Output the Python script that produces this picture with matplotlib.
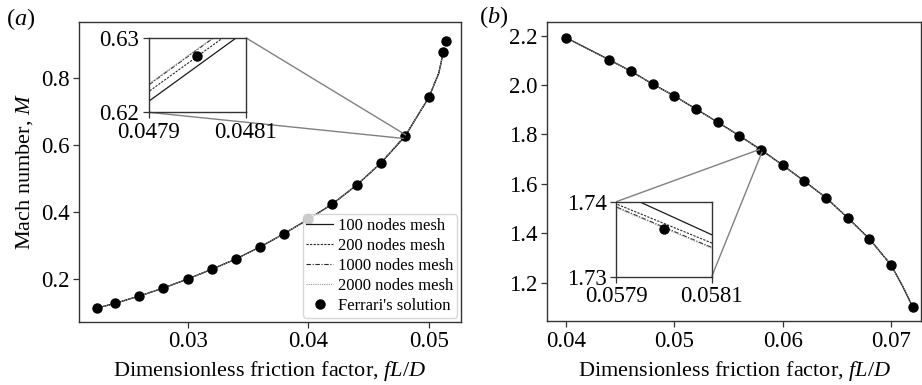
import numpy as np
import matplotlib
matplotlib.use("Agg")
import matplotlib.pyplot as plt
from mpl_toolkits.axes_grid1.inset_locator import mark_inset

plt.rcParams['font.family'] = ['Liberation Serif', 'DejaVu Serif']
plt.rcParams['mathtext.fontset'] = 'custom'
plt.rcParams['mathtext.rm'] = 'Liberation Serif'
plt.rcParams['mathtext.it'] = 'Liberation Serif:italic'
plt.rcParams['font.size'] = 16.5

# ---------------- data: panel (a) ----------------
ferrari_a_x = [0.0225, 0.024, 0.026, 0.028, 0.030, 0.032, 0.034, 0.036, 0.038,
               0.040, 0.042, 0.044, 0.046, 0.048, 0.050, 0.0512, 0.0514]
ferrari_a_M = [0.112, 0.126, 0.148, 0.172, 0.199, 0.228, 0.259, 0.295, 0.335,
               0.378, 0.424, 0.480, 0.546, 0.6275, 0.744, 0.880, 0.911]

curve_a_x = [0.0225, 0.024, 0.026, 0.028, 0.030, 0.032, 0.034, 0.036, 0.038,
             0.040, 0.042, 0.044, 0.046, 0.049, 0.050, 0.0508, 0.0512]
curve_a_M = [0.112, 0.126, 0.148, 0.172, 0.199, 0.228, 0.259, 0.295, 0.335,
             0.378, 0.424, 0.480, 0.546, 0.685, 0.744, 0.815, 0.880]

zoom_a_x = [0.0479, 0.0481]
mesh_a_100 = [0.6215, 0.6309]
mesh_a_200 = [0.6228, 0.6322]
mesh_a_1000 = [0.6237, 0.6331]
mesh_a_2000 = [0.6238, 0.6332]

# ---------------- data: panel (b) ----------------
ferrari_b_x = [0.040, 0.044, 0.046, 0.048, 0.050, 0.052, 0.054, 0.056, 0.058,
               0.060, 0.062, 0.064, 0.066, 0.068, 0.070, 0.072]
ferrari_b_M = [2.192, 2.102, 2.056, 2.004, 1.956, 1.903, 1.850, 1.795, 1.7364,
               1.676, 1.611, 1.544, 1.463, 1.378, 1.272, 1.102]

curve_b_x = [0.040, 0.044, 0.046, 0.048, 0.050, 0.052, 0.054, 0.056,
             0.060, 0.062, 0.064, 0.066, 0.068, 0.070, 0.0711, 0.072]
curve_b_M = [2.192, 2.102, 2.056, 2.004, 1.956, 1.903, 1.850, 1.795,
             1.676, 1.611, 1.544, 1.463, 1.378, 1.272, 1.184, 1.102]

zoom_b_x = [0.0579, 0.0581]
mesh_b_100 = [1.7414, 1.7356]
mesh_b_200 = [1.7397, 1.7345]
mesh_b_1000 = [1.7393, 1.7339]
mesh_b_2000 = [1.7392, 1.7338]

mesh_labels = ['100 nodes mesh', '200 nodes mesh', '1000 nodes mesh', '2000 nodes mesh']
ferrari_label = "Ferrari's solution"

xticks_a = [0.03, 0.04, 0.05]
yticks_a = [0.2, 0.4, 0.6, 0.8]
xticks_b = [0.04, 0.05, 0.06, 0.07]
yticks_b = [1.2, 1.4, 1.6, 1.8, 2.0, 2.2]
inset_a_xticks = [0.0479, 0.0481]
inset_a_xlabels = ['0.0479', '0.0481']
inset_a_yticks = [0.62, 0.63]
inset_a_ylabels = ['0.62', '0.63']
inset_b_xticks = [0.0579, 0.0581]
inset_b_xlabels = ['0.0579', '0.0581']
inset_b_yticks = [1.73, 1.74]
inset_b_ylabels = ['1.73', '1.74']

styles = [dict(ls='-', color='0.1', lw=0.9),
          dict(ls=(0, (2.0, 1.2)), color='0.15', lw=0.8),
          dict(ls=(0, (4, 1.5, 1, 1.5)), color='0.15', lw=0.8),
          dict(ls=(0, (1, 1)), color='0.6', lw=0.8)]


def merged(cx, cy, zx, zy):
    x = np.array(list(cx) + list(zx))
    y = np.array(list(cy) + list(zy))
    o = np.argsort(x)
    return x[o], y[o]


def style_axes(a):
    for s in a.spines.values():
        s.set_color('0.2')
        s.set_linewidth(1.0)
    a.tick_params(direction='out', length=4, width=0.9, color='0.2', labelsize=16.5, pad=3)


fig = plt.figure(figsize=(9.22, 3.85), dpi=100)

# ---------------- panel (a) ----------------
ax = fig.add_axes([0.0857, 0.1644, 0.4143, 0.7785])
meshes_a = [mesh_a_100, mesh_a_200, mesh_a_1000, mesh_a_2000]
for lab, mz, st in zip(mesh_labels, meshes_a, styles):
    x, y = merged(curve_a_x, curve_a_M, zoom_a_x, mz)
    ax.plot(x, y, label=lab, **st)
ax.plot(ferrari_a_x, ferrari_a_M, 'o', color='black', ms=6.5, ls='none', label=ferrari_label)
ax.set_xlim(0.0210, 0.05265)
ax.set_ylim(0.071, 0.969)
ax.set_xticks(xticks_a)
ax.set_yticks(yticks_a)
ax.set_xlabel('Dimensionless friction factor, $fL/D$', fontsize=16, labelpad=5)
ax.set_ylabel('Mach number, $M$', fontsize=16, labelpad=4)
style_axes(ax)
leg = ax.legend(loc='lower right', fontsize=12, labelspacing=0.25, handlelength=1.6,
                handletextpad=0.3, borderaxespad=0.25, borderpad=0.2, framealpha=0.8)

axi = fig.add_axes([0.1616, 0.7083, 0.1049, 0.1938])
for lab, mz, st in zip(mesh_labels, meshes_a, styles):
    x, y = merged(curve_a_x, curve_a_M, zoom_a_x, mz)
    axi.plot(x, y, **st)
axi.plot(ferrari_a_x, ferrari_a_M, 'o', color='black', ms=6.5, ls='none')
axi.set_xlim(inset_a_xticks[0], inset_a_xticks[1])
axi.set_ylim(inset_a_yticks[0], inset_a_yticks[1])
axi.set_xticks(inset_a_xticks)
axi.set_xticklabels(inset_a_xlabels)
axi.set_yticks(inset_a_yticks)
axi.set_yticklabels(inset_a_ylabels)
style_axes(axi)
mark_inset(ax, axi, loc1=1, loc2=3, fc='none', ec='0.5', lw=1.0)

# ---------------- panel (b) ----------------
bx = fig.add_axes([0.5936, 0.1662, 0.4053, 0.7758])
meshes_b = [mesh_b_100, mesh_b_200, mesh_b_1000, mesh_b_2000]
for lab, mz, st in zip(mesh_labels, meshes_b, styles):
    x, y = merged(curve_b_x, curve_b_M, zoom_b_x, mz)
    bx.plot(x, y, label=lab, **st)
bx.plot(ferrari_b_x, ferrari_b_M, 'o', color='black', ms=6.5, ls='none')
bx.set_xlim(0.03827, 0.07277)
bx.set_ylim(1.045, 2.254)
bx.set_xticks(xticks_b)
bx.set_yticks(yticks_b)
bx.set_xlabel('Dimensionless friction factor, $fL/D$', fontsize=16, labelpad=5)
style_axes(bx)

bxi = fig.add_axes([0.6684, 0.2813, 0.1035, 0.1948])
for lab, mz, st in zip(mesh_labels, meshes_b, styles):
    x, y = merged(curve_b_x, curve_b_M, zoom_b_x, mz)
    bxi.plot(x, y, **st)
bxi.plot(ferrari_b_x, ferrari_b_M, 'o', color='black', ms=6.5, ls='none')
bxi.set_xlim(inset_b_xticks[0], inset_b_xticks[1])
bxi.set_ylim(inset_b_yticks[0], inset_b_yticks[1])
bxi.set_xticks(inset_b_xticks)
bxi.set_xticklabels(inset_b_xlabels)
bxi.set_yticks(inset_b_yticks)
bxi.set_yticklabels(inset_b_ylabels)
style_axes(bxi)
mark_inset(bx, bxi, loc1=2, loc2=4, fc='none', ec='0.5', lw=1.0)

fig.text(6 / 922, 1 - 19.5 / 385, '($a$)', fontsize=17.5, va='center', ha='left')
fig.text(479 / 922, 1 - 17.5 / 385, '($b$)', fontsize=17.5, va='center', ha='left')

fig.savefig('out.png', dpi=100)
